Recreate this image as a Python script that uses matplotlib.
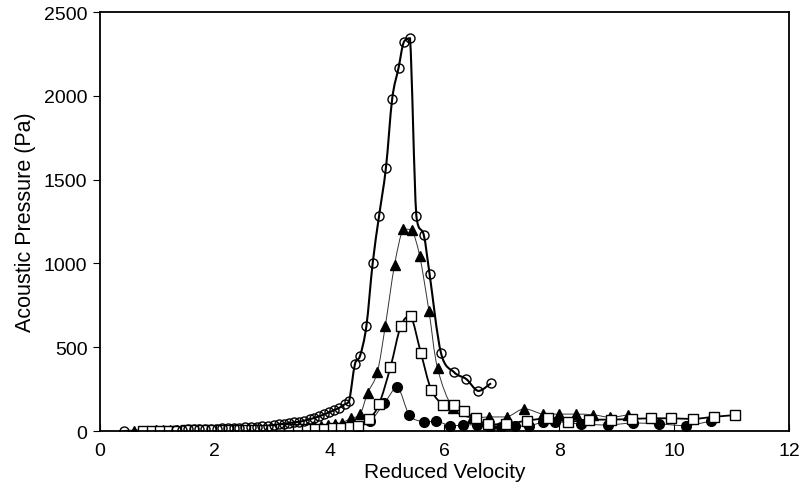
import matplotlib.pyplot as plt
from matplotlib.path import Path
from matplotlib.patches import PathPatch

plt.rcParams["font.family"] = ["Liberation Sans", "DejaVu Sans"]

# open circles
circle_x = [0.41, 1.33, 1.43, 1.53, 1.63, 1.73, 1.83, 1.93, 2.03, 2.13, 2.23, 2.33, 2.43,
            2.53, 2.63, 2.73, 2.83, 2.93, 3.03, 3.12, 3.21, 3.30, 3.38, 3.47, 3.56, 3.65,
            3.73, 3.82, 3.91, 3.99, 4.08, 4.17, 4.26, 4.34, 4.44, 4.53, 4.64, 4.75, 4.86,
            4.98, 5.09, 5.20, 5.29, 5.40, 5.51, 5.64, 5.74, 5.94, 6.17, 6.38, 6.59, 6.81]
circle_y = [0, 8, 9, 10, 11, 12, 13, 14, 15, 16, 18, 19, 20,
            22, 24, 26, 28, 31, 36, 40, 44, 48, 52, 55, 62, 70,
            78, 88, 100, 111, 125, 139, 159, 179, 398, 449, 626, 1002, 1281,
            1569, 1983, 2166, 2319, 2343, 1285, 1169, 939, 465, 350, 310, 239, 285]

# filled triangles
tri_x = [0.59, 0.72, 0.85, 0.98, 1.10, 1.22, 1.35, 1.47, 1.60, 1.72, 1.85, 1.97, 2.10,
         2.22, 2.35, 2.47, 2.60, 2.72, 2.85, 2.97, 3.10, 3.22, 3.35, 3.47, 3.60, 3.72,
         3.85, 3.97, 4.10, 4.22, 4.37, 4.53, 4.66, 4.83, 4.97, 5.13, 5.28, 5.43, 5.57,
         5.73, 5.88, 6.15, 6.48, 6.78, 7.09, 7.39, 7.71, 7.99, 8.29, 8.59, 8.89, 9.20]
tri_y = [2, 3, 3, 4, 4, 5, 5, 6, 6, 7, 7, 8, 8,
         9, 10, 10, 11, 12, 13, 14, 15, 17, 19, 21, 24, 27,
         31, 36, 42, 50, 76, 100, 225, 350, 628, 990, 1205, 1199, 1042,
         716, 374, 135, 78, 84, 84, 133, 101, 101, 101, 97, 82, 97]

# open squares
sq_x = [0.75, 0.90, 1.05, 1.20, 1.35, 1.50, 1.65, 1.80, 1.95, 2.10, 2.25, 2.40, 2.55,
        2.70, 2.85, 3.00, 3.15, 3.30, 3.45, 3.60, 3.75, 3.90, 4.05, 4.20, 4.35, 4.50,
        4.69, 4.86, 5.06, 5.24, 5.41, 5.59, 5.77, 5.98, 6.17, 6.34, 6.55, 6.75, 7.08,
        7.44, 7.81, 8.16, 8.52, 8.90, 9.26, 9.60, 9.95, 10.33, 10.70, 11.06]
sq_y = [1, 2, 2, 3, 3, 4, 4, 5, 5, 6, 6, 7, 7,
        8, 9, 9, 10, 11, 12, 13, 14, 15, 17, 19, 22, 30,
        72, 160, 382, 627, 686, 465, 246, 158, 153, 117, 75, 40, 42,
        62, 76, 56, 68, 68, 72, 76, 76, 72, 85, 95]

# filled circles
dot_x = [1.00, 1.15, 1.30, 1.45, 1.60, 1.75, 1.90, 2.05, 2.20, 2.35, 2.50, 2.65, 2.80,
         2.95, 3.10, 3.25, 3.40, 3.55, 3.70, 3.85, 4.00, 4.12, 4.24, 4.48, 4.71, 4.95,
         5.18, 5.39, 5.64, 5.86, 6.10, 6.32, 6.56, 6.79, 6.99, 7.23, 7.48, 7.71, 7.92,
         8.38, 8.84, 9.29, 9.74, 10.20, 10.65]
dot_y = [0, 0, 1, 1, 1, 1, 2, 2, 2, 2, 3, 3, 3,
         3, 4, 4, 4, 5, 5, 5, 6, 7, 8, 22, 60, 165,
         260, 95, 54, 59, 32, 34, 38, 25, 26, 28, 32, 52, 56,
         42, 36, 48, 42, 32, 60]


def smooth_path(xs, ys, k=1 / 6):
    # smoothed line through the points, control points kept inside each segment
    pts = list(zip(xs, ys))
    verts = [pts[0]]
    codes = [Path.MOVETO]
    n = len(pts)
    for i in range(n - 1):
        p0 = pts[max(i - 1, 0)]
        p1 = pts[i]
        p2 = pts[i + 1]
        p3 = pts[min(i + 2, n - 1)]
        lo, hi = min(p1[1], p2[1]), max(p1[1], p2[1])
        c1y = min(max(p1[1] + (p2[1] - p0[1]) * k, lo), hi)
        c2y = min(max(p2[1] - (p3[1] - p1[1]) * k, lo), hi)
        c1 = (p1[0] + (p2[0] - p0[0]) * k, c1y)
        c2 = (p2[0] - (p3[0] - p1[0]) * k, c2y)
        verts += [c1, c2, p2]
        codes += [Path.CURVE4] * 3
    return Path(verts, codes)


def draw_series(ax, xs, ys, lw, color, **marker_kw):
    ax.add_patch(PathPatch(smooth_path(xs, ys), facecolor="none", edgecolor=color,
                           linewidth=lw))
    ax.plot(xs, ys, linestyle="none", **marker_kw)


fig = plt.figure(figsize=(8.03, 5.02), dpi=100)
ax = fig.add_axes([0.1245, 0.1394, 0.858, 0.8346])

draw_series(ax, tri_x, tri_y, 0.7, "#333333", marker="^", markersize=7,
            markerfacecolor="black", markeredgecolor="black")
draw_series(ax, dot_x, dot_y, 0.7, "#333333", marker="o", markersize=7,
            markerfacecolor="black", markeredgecolor="black")
draw_series(ax, sq_x, sq_y, 1.3, "black", marker="s", markersize=6.5,
            markerfacecolor="white", markeredgecolor="black", markeredgewidth=1.0)
draw_series(ax, circle_x, circle_y, 1.5, "black", marker="o", markersize=6.5,
            markerfacecolor="none", markeredgecolor="black", markeredgewidth=1.0)

ax.set_xlim(0, 12)
ax.set_ylim(0, 2500)
ax.set_xticks(range(0, 13, 2))
ax.set_yticks(range(0, 2501, 500))
ax.tick_params(axis="x", direction="in", length=5, labelsize=14, pad=8)
ax.tick_params(axis="y", direction="out", length=5, labelsize=14, pad=4)
for s in ax.spines.values():
    s.set_linewidth(1.3)

ax.set_xlabel("Reduced Velocity", fontsize=15, labelpad=2)
ax.set_ylabel("Acoustic Pressure (Pa)", fontsize=15.5, labelpad=6)

fig.savefig("out.png", dpi=100)
